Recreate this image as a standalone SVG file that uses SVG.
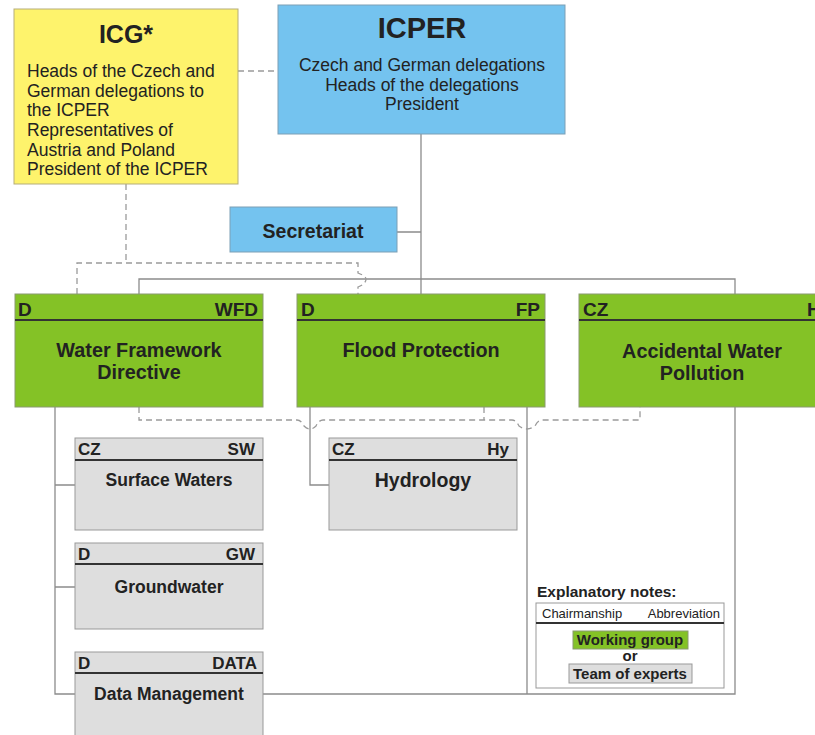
<svg xmlns="http://www.w3.org/2000/svg" width="815" height="735" viewBox="0 0 815 735">
<style>
text{font-family:"Liberation Sans",Arial,sans-serif;fill:#222}
.b{font-weight:bold}
.c{text-anchor:middle}
.r{text-anchor:end}
.ln{fill:none;stroke:#8c8c8c;stroke-width:1.3}
.dl{fill:none;stroke:#9a9a9a;stroke-width:1.3;stroke-dasharray:6,4}
.green{fill:#84c226;stroke:#8a9a70;stroke-width:1}
.grey{fill:#dedede;stroke:#999;stroke-width:1}
.hd{stroke:#333;stroke-width:2}
.gh{font-weight:bold;font-size:19px}
.sh{font-weight:bold;font-size:17px}
.body{font-size:17.5px}
</style>
<rect width="815" height="735" fill="#fff"/>
<g id="connectors">
<path class="dl" d="M238,71 H278"/>
<path class="ln" d="M421,134 V294 M397,232 H421 M139,294 V279 H735 V294"/>
<path class="dl" d="M126,184 V263 M77,294 V263 H358 V273 Q366,276 366,279 Q366,284 358,287 V294"/>
<path class="ln" d="M55,407 V694 H75 M55,485 H75 M55,587 H75 M263,694 H735 V407 M310,407 V485 H329 M527,407 V694"/>
<path class="dl" d="M139,407 V420 H297 Q301,420 304,426 Q310,432 316,426 Q319,420 323,420 H512 Q516,420 519,426 Q527,432 535,426 Q538,420 542,420 H640 V407 M484,407 V420"/>
</g>
<g id="icg">
<rect x="14" y="9" width="224" height="175" fill="#fef36c" stroke="#b5ad7a" stroke-width="1"/>
<text x="126" y="43" class="b c" font-size="25">ICG*</text>
<text x="27" y="77" class="body">Heads of the Czech and</text>
<text x="27" y="97" class="body">German delegations to</text>
<text x="27" y="116" class="body">the ICPER</text>
<text x="27" y="136" class="body">Representatives of</text>
<text x="27" y="156" class="body">Austria and Poland</text>
<text x="27" y="175" class="body">President of the ICPER</text>
</g>
<g id="icper">
<rect x="278" y="5" width="287" height="129" fill="#74c3ef" stroke="#7d9fb5" stroke-width="1"/>
<text x="422" y="38" class="b c" font-size="29">ICPER</text>
<text x="422" y="71" class="c body">Czech and German delegations</text>
<text x="422" y="91" class="c body">Heads of the delegations</text>
<text x="422" y="110" class="c body">President</text>
</g>
<g id="secretariat">
<rect x="230" y="207" width="167" height="45" fill="#74c3ef" stroke="#7d9fb5" stroke-width="1"/>
<text x="313" y="238" class="b c" font-size="19.5">Secretariat</text>
</g>
<g id="wfd">
<rect x="15" y="294" width="248" height="113" class="green"/>
<line x1="15" y1="320" x2="263" y2="320" class="hd"/>
<text x="18" y="316" class="gh">D</text>
<text x="258" y="316" class="gh r">WFD</text>
<text x="139" y="357" class="b c" font-size="19.8">Water Framework</text>
<text x="139" y="379" class="b c" font-size="19.8">Directive</text>
</g>
<g id="fp">
<rect x="297" y="294" width="248" height="113" class="green"/>
<line x1="297" y1="320" x2="545" y2="320" class="hd"/>
<text x="301" y="316" class="gh">D</text>
<text x="540" y="316" class="gh r">FP</text>
<text x="421" y="357" class="b c" font-size="19.8">Flood Protection</text>
</g>
<g id="awp">
<rect x="579" y="294" width="250" height="113" class="green"/>
<line x1="579" y1="320" x2="829" y2="320" class="hd"/>
<text x="583" y="316" class="gh">CZ</text>
<text x="807" y="316" class="gh">H</text>
<text x="702" y="358" class="b c" font-size="19.8">Accidental Water</text>
<text x="702" y="380" class="b c" font-size="19.8">Pollution</text>
</g>
<g id="sw">
<rect x="75" y="438" width="188" height="92" class="grey"/>
<line x1="75" y1="460" x2="263" y2="460" class="hd"/>
<text x="78" y="455" class="sh">CZ</text>
<text x="255" y="455" class="sh r">SW</text>
<text x="169" y="486" class="b c" font-size="17.5">Surface Waters</text>
</g>
<g id="hy">
<rect x="329" y="438" width="188" height="92" class="grey"/>
<line x1="329" y1="460" x2="517" y2="460" class="hd"/>
<text x="332" y="455" class="sh">CZ</text>
<text x="509" y="455" class="sh r">Hy</text>
<text x="423" y="487" class="b c" font-size="19.5">Hydrology</text>
</g>
<g id="gw">
<rect x="75" y="543" width="188" height="86" class="grey"/>
<line x1="75" y1="564" x2="263" y2="564" class="hd"/>
<text x="78" y="560" class="sh">D</text>
<text x="255" y="560" class="sh r">GW</text>
<text x="169" y="593" class="b c" font-size="17.5">Groundwater</text>
</g>
<g id="data">
<rect x="75" y="652" width="188" height="90" class="grey"/>
<line x1="75" y1="673" x2="263" y2="673" class="hd"/>
<text x="78" y="669" class="sh">D</text>
<text x="257" y="669" class="sh r">DATA</text>
<text x="169" y="700" class="b c" font-size="17.5">Data Management</text>
</g>
<g id="legend">
<text x="537" y="597" class="b" font-size="15.5">Explanatory notes:</text>
<rect x="536" y="603" width="188" height="85" fill="#fff" stroke="#999" stroke-width="1"/>
<line x1="536" y1="623" x2="724" y2="623" class="hd"/>
<text x="542" y="618" font-size="13">Chairmanship</text>
<text x="720" y="618" class="r" font-size="13">Abbreviation</text>
<rect x="573" y="631" width="115" height="18" fill="#84c226" stroke="#8a9a70" stroke-width="1"/>
<text x="630" y="645" class="b c" font-size="15">Working group</text>
<text x="630" y="661" class="b c" font-size="15">or</text>
<rect x="569" y="664" width="123" height="19" class="grey"/>
<text x="630" y="679" class="b c" font-size="15">Team of experts</text>
</g>
</svg>
